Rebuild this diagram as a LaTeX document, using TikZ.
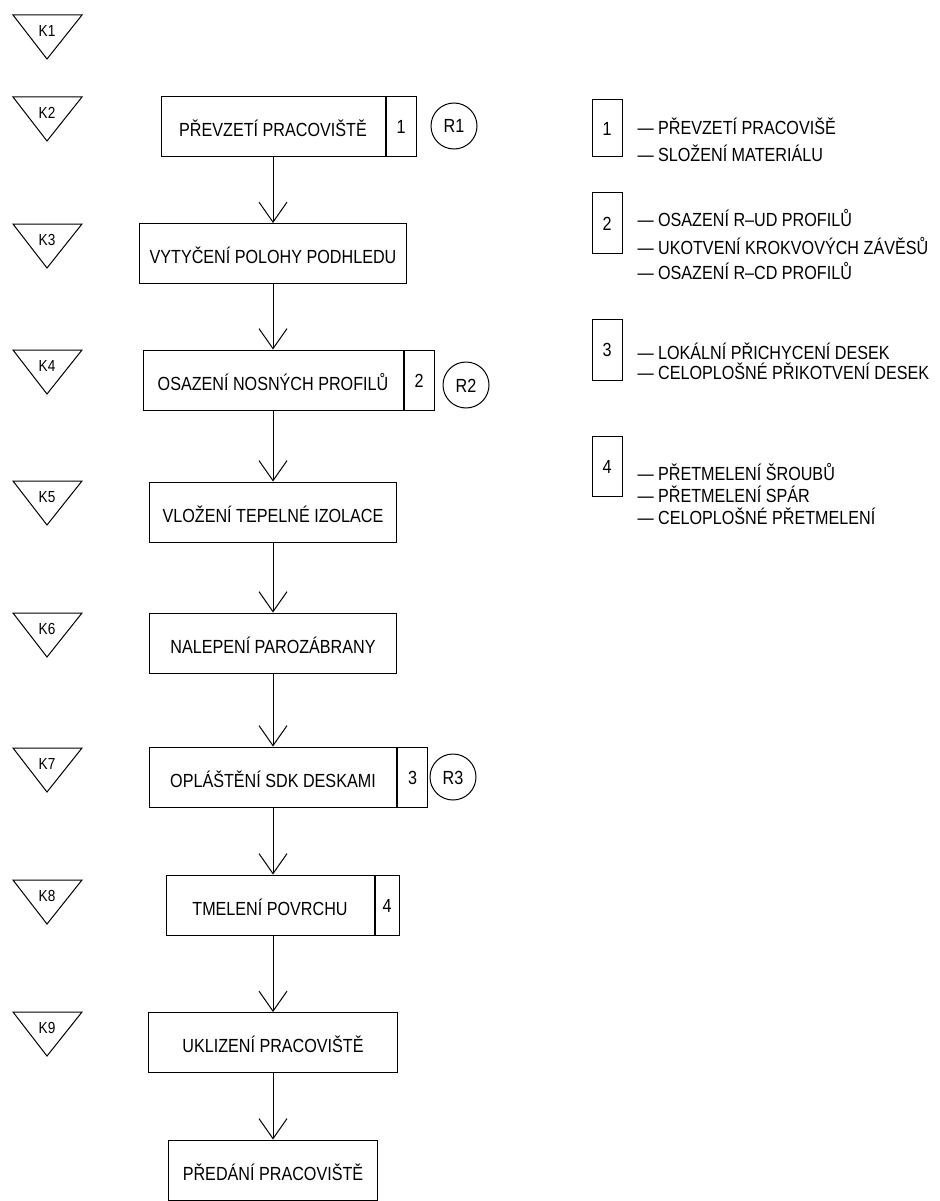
\documentclass[tikz,border=0pt]{standalone}
\usepackage{fontspec}
\setmainfont{Liberation Sans}[FakeStretch=0.85]
\usetikzlibrary{positioning,arrows.meta}

\begin{document}
\begin{tikzpicture}[
        x=1pt, y=-1pt,
        line width=1pt,
        font=\fontsize{19}{22}\selectfont,
        stepbox/.style={rectangle, draw, minimum height=60pt, inner sep=0pt, text height=20pt, text depth=0pt},
        cell/.style={rectangle, draw, minimum height=60pt, minimum width=30pt, inner sep=0pt, text height=14pt, text depth=0pt},
        rev/.style={circle, draw, minimum size=46pt, inner sep=0pt, text height=14pt, text depth=0pt},
        kmark/.style={draw, line join=miter},
        klbl/.style={font=\fontsize{16}{18}\selectfont, inner sep=0pt},
        item/.style={anchor=base west, inner sep=0pt},
        arr/.style={-{Straight Barb[length=20pt, width=28pt]}},
    ]
    \useasboundingbox (0,0) rectangle (939,1201);

    % Control points K1 - K9
    \draw[kmark] (13,15) -- (82,15) -- (47,59) -- cycle;
    \node[klbl] (k1) at (47,31) {K1};
    \draw[kmark] (13,97) -- (82,97) -- (47,141) -- cycle;
    \node[klbl] (k2) at (47,113) {K2};
    \draw[kmark] (13,224) -- (82,224) -- (47,268) -- cycle;
    \node[klbl] (k3) at (47,240) {K3};
    \draw[kmark] (13,350) -- (82,350) -- (47,394) -- cycle;
    \node[klbl] (k4) at (47,366) {K4};
    \draw[kmark] (13,481) -- (82,481) -- (47,525) -- cycle;
    \node[klbl] (k5) at (47,497) {K5};
    \draw[kmark] (13,613) -- (82,613) -- (47,657) -- cycle;
    \node[klbl] (k6) at (47,629) {K6};
    \draw[kmark] (13,748) -- (82,748) -- (47,792) -- cycle;
    \node[klbl] (k7) at (47,764) {K7};
    \draw[kmark] (13,880) -- (82,880) -- (47,924) -- cycle;
    \node[klbl] (k8) at (47,896) {K8};
    \draw[kmark] (13,1012) -- (82,1012) -- (47,1056) -- cycle;
    \node[klbl] (k9) at (47,1028) {K9};

    % Work steps
    \node[stepbox, minimum width=224pt] (s1) at (273,126.5) {PŘEVZETÍ PRACOVIŠTĚ};
    \node[cell, anchor=west] (c1) at (s1.east) {1};
    \node[rev] (r1) at (454,126) {R1};

    \node[stepbox, minimum width=267pt] (s2) at (273,253.5) {VYTYČENÍ POLOHY PODHLEDU};

    \node[stepbox, minimum width=260pt] (s3) at (273,380) {OSAZENÍ NOSNÝCH PROFILŮ};
    \node[cell, anchor=west] (c3) at (s3.east) {2};
    \node[rev] (r2) at (466,385) {R2};

    \node[stepbox, minimum width=247pt] (s4) at (273,512) {VLOŽENÍ TEPELNÉ IZOLACE};

    \node[stepbox, minimum width=247pt] (s5) at (273,643) {NALEPENÍ PAROZÁBRANY};

    \node[stepbox, minimum width=247pt] (s6) at (273,777) {OPLÁŠTĚNÍ SDK DESKAMI};
    \node[cell, anchor=west] (c6) at (s6.east) {3};
    \node[rev] (r3) at (453,777) {R3};

    \node[stepbox, minimum width=208pt] (s7) at (270,905) {TMELENÍ POVRCHU};
    \node[cell, anchor=west, minimum width=24pt] (c7) at (s7.east) {4};

    \node[stepbox, minimum width=249pt] (s8) at (273,1042.5) {UKLIZENÍ PRACOVIŠTĚ};

    \node[stepbox, minimum width=209pt] (s9) at (273,1170) {PŘEDÁNÍ PRACOVIŠTĚ};

    % Flow
    \draw[arr] (s1.south) -- (s2.north);
    \draw[arr] (s2.south) -- (s3.north);
    \draw[arr] (s3.south) -- (s4.north);
    \draw[arr] (s4.south) -- (s5.north);
    \draw[arr] (s5.south) -- (s6.north);
    \draw[arr] (s6.south) -- (s6.south |- s7.north);
    \draw[arr] (s8.north |- s7.south) -- (s8.north);
    \draw[arr] (s8.south) -- (s9.north);

    % Legend
    \node[cell, minimum height=57pt] (l1) at (607,128.5) {1};
    \node[item] (l1a) at (637,135) {— PŘEVZETÍ PRACOVIŠĚ};
    \node[item] (l1b) at (637,162) {— SLOŽENÍ MATERIÁLU};

    \node[cell] (l2) at (607,223) {2};
    \node[item] (l2a) at (637,226) {— OSAZENÍ R–UD PROFILŮ};
    \node[item] (l2b) at (637,254) {— UKOTVENÍ KROKVOVÝCH ZÁVĚSŮ};
    \node[item] (l2c) at (637,279) {— OSAZENÍ R–CD PROFILŮ};

    \node[cell, minimum height=61pt] (l3) at (607,349.5) {3};
    \node[item] (l3a) at (637,359) {— LOKÁLNÍ PŘICHYCENÍ DESEK};
    \node[item] (l3b) at (637,379) {— CELOPLOŠNÉ PŘIKOTVENÍ DESEK};

    \node[cell] (l4) at (607,466) {4};
    \node[item] (l4a) at (637,480) {— PŘETMELENÍ ŠROUBŮ};
    \node[item] (l4b) at (637,502) {— PŘETMELENÍ SPÁR};
    \node[item] (l4c) at (637,524) {— CELOPLOŠNÉ PŘETMELENÍ};

\end{tikzpicture}
\end{document}
